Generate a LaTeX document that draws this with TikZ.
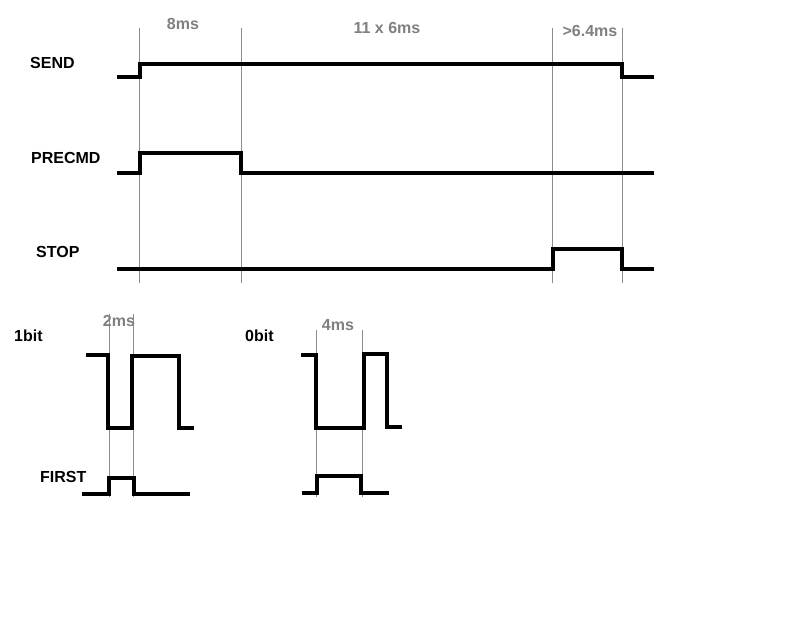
\documentclass[tikz,border=0pt]{standalone}
\usepackage{fontspec}
\setmainfont{Liberation Sans}
\definecolor{durgray}{RGB}{128,128,128}
\definecolor{guidegray}{RGB}{140,140,140}
\begin{document}
\begin{tikzpicture}[x=1pt,y=-1pt,
  sig/.style={line width=3.4pt, line join=miter, line cap=butt},
  guide/.style={line width=0.9pt, draw=guidegray},
  lbl/.style={font=\fontsize{16}{19}\selectfont\bfseries, inner sep=0pt, anchor=west},
  dur/.style={font=\fontsize{16}{19}\selectfont\bfseries, text=durgray, inner sep=0pt}]
\useasboundingbox[fill=white] (0,0) rectangle (792,617);

% guide lines (top)
\draw[guide] (139,28) -- (139,283);
\draw[guide] (241,28) -- (241,283);
\draw[guide] (552,28) -- (552,283);
\draw[guide] (622,28) -- (622,283);
% guide lines (bottom)
\draw[guide] (109,314) -- (109,497);
\draw[guide] (133,314) -- (133,497);
\draw[guide] (316,330) -- (316,497);
\draw[guide] (362,330) -- (362,497);

% top signals
\draw[sig] (117,77) -- (140,77) -- (140,64) -- (622,64) -- (622,77) -- (654,77);
\draw[sig] (117,173) -- (140,173) -- (140,153) -- (241,153) -- (241,173) -- (654,173);
\draw[sig] (117,269) -- (553,269) -- (553,249) -- (622,249) -- (622,269) -- (654,269);

% bottom signals
\draw[sig] (86,355) -- (108,355) -- (108,428) -- (132,428) -- (132,356) -- (179,356) -- (179,428) -- (194,428);
\draw[sig] (82,494) -- (109,494) -- (109,478) -- (134,478) -- (134,494) -- (190,494);
\draw[sig] (301,355) -- (316,355) -- (316,428) -- (364,428) -- (364,354) -- (387,354) -- (387,427) -- (402,427);
\draw[sig] (302,493) -- (317,493) -- (317,476) -- (361,476) -- (361,493) -- (389,493);

% labels
\node[lbl] (send) at (30,63) {SEND};
\node[lbl] (precmd) at (31,158) {PRECMD};
\node[lbl] (stop) at (36,252) {STOP};
\node[lbl] (onebit) at (14,336) {1bit};
\node[lbl] (zerobit) at (245,336) {0bit};
\node[lbl] (first) at (40,477) {FIRST};

% durations
\node[dur] (d8) at (183,24) {8ms};
\node[dur] (d11) at (387,28) {11 x 6ms};
\node[dur] (d64) at (590,31) {>6.4ms};
\node[dur] (d2) at (119,321) {2ms};
\node[dur] (d4) at (338,325) {4ms};
\end{tikzpicture}
\end{document}
